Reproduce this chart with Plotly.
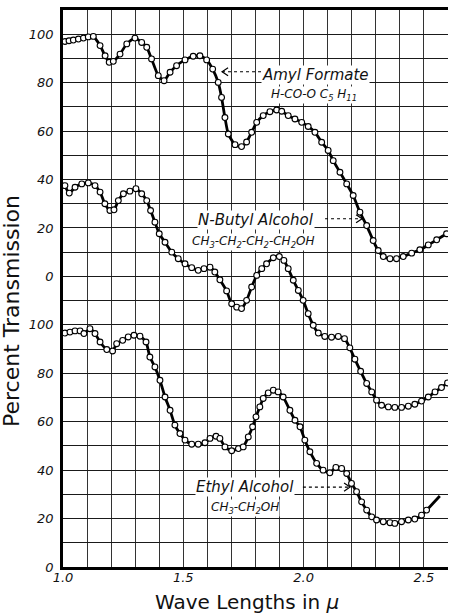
import plotly.graph_objects as go

# ---------------- data ----------------
# Amyl Formate, read on the upper scale (upper scale 0 sits 120 units above bottom 0)
amyl_wl = [1.008, 1.025, 1.043, 1.064, 1.085, 1.105, 1.126, 1.154, 1.175, 1.192, 1.209,
           1.237, 1.265, 1.299, 1.327, 1.348, 1.368, 1.396, 1.420, 1.445, 1.472, 1.507,
           1.541, 1.569, 1.597, 1.622, 1.645, 1.659, 1.673, 1.687, 1.715, 1.742, 1.763,
           1.784, 1.805, 1.832, 1.860, 1.888, 1.909, 1.936, 1.964, 1.992, 2.019, 2.047,
           2.075, 2.102, 2.123, 2.151, 2.179, 2.206, 2.234, 2.262, 2.289, 2.310, 2.331,
           2.359, 2.386, 2.414, 2.449, 2.483, 2.518, 2.553, 2.594]
amyl_pct = [97.0, 97.3, 97.6, 98.0, 98.4, 98.9, 99.1, 95.3, 91.1, 88.4, 88.8,
            91.8, 96.0, 98.4, 96.6, 94.6, 89.8, 82.9, 80.8, 84.3, 87.0, 89.4,
            90.9, 91.1, 89.4, 85.6, 80.1, 73.9, 65.6, 58.8, 54.4, 53.6, 55.5,
            59.5, 63.6, 66.4, 68.0, 68.7, 68.2, 66.4, 65.0, 63.6, 61.9, 59.5,
            55.4, 52.0, 47.8, 43.0, 38.2, 33.4, 26.5, 21.0, 14.8, 10.7, 8.2,
            7.3, 7.3, 8.2, 9.6, 11.0, 13.0, 15.1, 17.6]

# N-Butyl Alcohol, read on the middle scale (same offset as the upper scale)
butyl_wl = [1.008, 1.026, 1.050, 1.078, 1.105, 1.133, 1.154, 1.174, 1.195, 1.212, 1.230,
            1.251, 1.278, 1.303, 1.327, 1.348, 1.364, 1.382, 1.400, 1.424, 1.452, 1.479,
            1.507, 1.535, 1.562, 1.586, 1.611, 1.631, 1.652, 1.680, 1.701, 1.722, 1.742,
            1.763, 1.784, 1.805, 1.826, 1.846, 1.874, 1.899, 1.918, 1.936, 1.957, 1.978,
            1.998, 2.019, 2.040, 2.061, 2.088, 2.116, 2.144, 2.170, 2.192, 2.213, 2.237,
            2.262, 2.283, 2.303, 2.324, 2.352, 2.379, 2.407, 2.435, 2.462, 2.490, 2.518,
            2.546, 2.573, 2.598]
butyl_pct = [37.5, 34.4, 36.8, 38.2, 38.6, 37.5, 34.8, 30.0, 27.2, 27.5, 31.3,
             34.1, 35.2, 36.2, 34.1, 31.3, 27.2, 22.4, 17.6, 14.1, 10.0, 7.3,
             5.2, 3.6, 2.5, 3.2, 3.8, 1.8, -1.4, -6.0, -11.3, -12.7, -13.3,
             -9.9, -4.4, 0.4, 3.2, 5.2, 7.7, 8.2, 6.6, 3.2, -1.6, -5.8,
             -9.9, -15.4, -20.2, -23.4, -24.8, -25.1, -24.8, -25.7, -29.5, -34.2, -39.2,
             -44.2, -47.7, -51.1, -53.2, -53.9, -54.1, -54.1, -53.6, -52.8, -51.5, -49.8,
             -47.7, -45.9, -44.0]

# Ethyl Alcohol, read on the lower scale
ethyl_wl = [1.008, 1.029, 1.050, 1.071, 1.087, 1.112, 1.133, 1.154, 1.182, 1.206, 1.223,
            1.248, 1.271, 1.295, 1.320, 1.345, 1.361, 1.382, 1.403, 1.424, 1.445, 1.465,
            1.486, 1.507, 1.535, 1.562, 1.590, 1.611, 1.636, 1.652, 1.673, 1.701, 1.729,
            1.749, 1.770, 1.788, 1.802, 1.818, 1.832, 1.853, 1.874, 1.894, 1.915, 1.943,
            1.964, 1.985, 2.005, 2.026, 2.054, 2.081, 2.109, 2.134, 2.158, 2.179, 2.199,
            2.220, 2.241, 2.262, 2.283, 2.303, 2.331, 2.359, 2.379, 2.407, 2.435, 2.462,
            2.490, 2.511, 2.538, 2.566]
ethyl_pct = [96.6, 97.0, 97.5, 97.5, 96.4, 98.4, 96.4, 92.9, 89.8, 89.2, 92.2,
             93.6, 95.0, 95.7, 95.3, 92.9, 86.7, 82.6, 77.1, 70.2, 64.7, 58.6,
             55.1, 52.4, 50.7, 50.7, 51.3, 53.1, 54.0, 53.1, 49.6, 48.0, 48.9,
             49.6, 53.7, 57.9, 62.0, 66.1, 69.6, 71.9, 73.0, 72.3, 70.2, 64.7,
             60.6, 57.9, 52.4, 47.6, 42.8, 40.0, 38.9, 41.1, 40.7, 38.6, 34.5,
             31.1, 26.9, 23.5, 20.7, 19.4, 18.7, 18.3, 18.0, 18.7, 19.4, 19.8,
             21.4, 23.5, 26.3, 29.3]
ethyl_marked = 68   # the last two readings are line only, no circle

UPPER_OFFSET = 120  # where the upper/middle scale's 0 lies on the common axis
LOWER_OFFSET = 0

y_tick_vals = [0, 20, 40, 60, 80, 100, 120, 140, 160, 180, 200, 220]
y_tick_text = ["0", "20", "40", "60", "80", "100", "0", "20", "40", "60", "80", "100"]
x_tick_vals = [1.0, 1.5, 2.0, 2.5]
x_tick_text = ["1.0", "1.5", "2.0", "2.5"]

# ---------------- figure ----------------
fig = go.Figure()

series = [
    (amyl_wl, [v + UPPER_OFFSET for v in amyl_pct], len(amyl_wl)),
    (butyl_wl, [v + UPPER_OFFSET for v in butyl_pct], len(butyl_wl)),
    (ethyl_wl, [v + LOWER_OFFSET for v in ethyl_pct], ethyl_marked),
]
for xs, ys, nmark in series:
    fig.add_trace(go.Scatter(x=xs, y=ys, mode="lines",
                             line=dict(color="black", width=2.8, shape="spline", smoothing=0.6),
                             hoverinfo="skip", showlegend=False))
    fig.add_trace(go.Scatter(x=xs[:nmark], y=ys[:nmark], mode="markers",
                             marker=dict(symbol="circle", size=5.8, color="white",
                                         line=dict(color="black", width=1.1)),
                             showlegend=False))

grid_x = [round(1.0 + 0.1 * i, 1) for i in range(17)]
grid_y = list(range(0, 231, 10))

fig.update_xaxes(range=[1.0, 2.6], tickmode="array", tickvals=grid_x,
                 ticktext=[x_tick_text[x_tick_vals.index(v)] if v in x_tick_vals else "" for v in grid_x],
                 showgrid=True, gridcolor="#333333", gridwidth=1,
                 showline=True, linecolor="black", linewidth=2.5, mirror=True,
                 ticks="", zeroline=False, automargin=False, ticklabelstandoff=-3,
                 tickfont=dict(family="DejaVu Sans", size=13, color="#111", style="italic"))
fig.update_yaxes(range=[0, 230], tickmode="array", tickvals=grid_y,
                 ticktext=[y_tick_text[y_tick_vals.index(v)] if v in y_tick_vals else "" for v in grid_y],
                 showgrid=True, gridcolor="#1a1a1a", gridwidth=1.4,
                 showline=True, linecolor="black", linewidth=2.5,
                 ticks="", zeroline=False, automargin=False, ticklabelstandoff=4,
                 tickfont=dict(family="DejaVu Sans", size=13, color="#111", style="italic"))

ann_font = dict(family="DejaVu Sans", size=15, color="#111", style="italic")
sub_font = dict(family="DejaVu Sans", size=12, color="#111", style="italic")
labels = [
    ("Amyl Formate", 2.049, 203.3, ann_font),
    ("H-CO-O C<sub>5</sub> H<sub>11</sub>", 2.045, 195.0, sub_font),
    ("N-Butyl Alcohol", 1.802, 143.4, ann_font),
    ("CH<sub>3</sub>-CH<sub>2</sub>-CH<sub>2</sub>-CH<sub>2</sub>OH", 1.790, 134.3, sub_font),
    ("Ethyl Alcohol", 1.756, 33.0, ann_font),
    ("CH<sub>3</sub>-CH<sub>2</sub>OH", 1.756, 24.4, sub_font),
]
for txt, x, y, f in labels:
    fig.add_annotation(x=x, y=y, text=txt, showarrow=False, font=f,
                       xanchor="center", yanchor="middle", bgcolor="white", borderpad=0)

# dotted leader arrows
arrows = [  # (x_from, x_tip, y)
    (1.823, 1.661, 204.5),
    (2.089, 2.243, 143.8),
    (1.997, 2.193, 33.0),
]
for x0, x1, y in arrows:
    fig.add_shape(type="line", x0=x0, x1=x1, y0=y, y1=y,
                  line=dict(color="black", width=1.2, dash="dot"))
    d = 0.025 if x1 < x0 else -0.025
    fig.add_shape(type="path",
                  path=f"M {x1 + d},{y + 1.7} L {x1},{y} L {x1 + d},{y - 1.7}",
                  line=dict(color="black", width=1.2))

fig.add_annotation(xref="paper", yref="paper", x=-0.132, y=0.46,
                   xanchor="center", yanchor="middle",
                   text="Percent Transmission", textangle=-90, showarrow=False,
                   font=dict(family="DejaVu Sans", size=22, color="#111"))
fig.add_annotation(xref="paper", yref="paper", x=0.478, y=-0.063,
                   xanchor="center", yanchor="middle",
                   text="Wave Lengths in <i>μ</i>", showarrow=False,
                   font=dict(family="DejaVu Sans", size=20, color="#111"))

fig.update_layout(width=449, height=615,
                  margin=dict(l=63, r=1, t=10, b=48),
                  plot_bgcolor="white", paper_bgcolor="white")

fig.write_html("out.html", config={"displayModeBar": False},
               post_script="document.body.style.margin='0';document.body.style.overflow='hidden';")
